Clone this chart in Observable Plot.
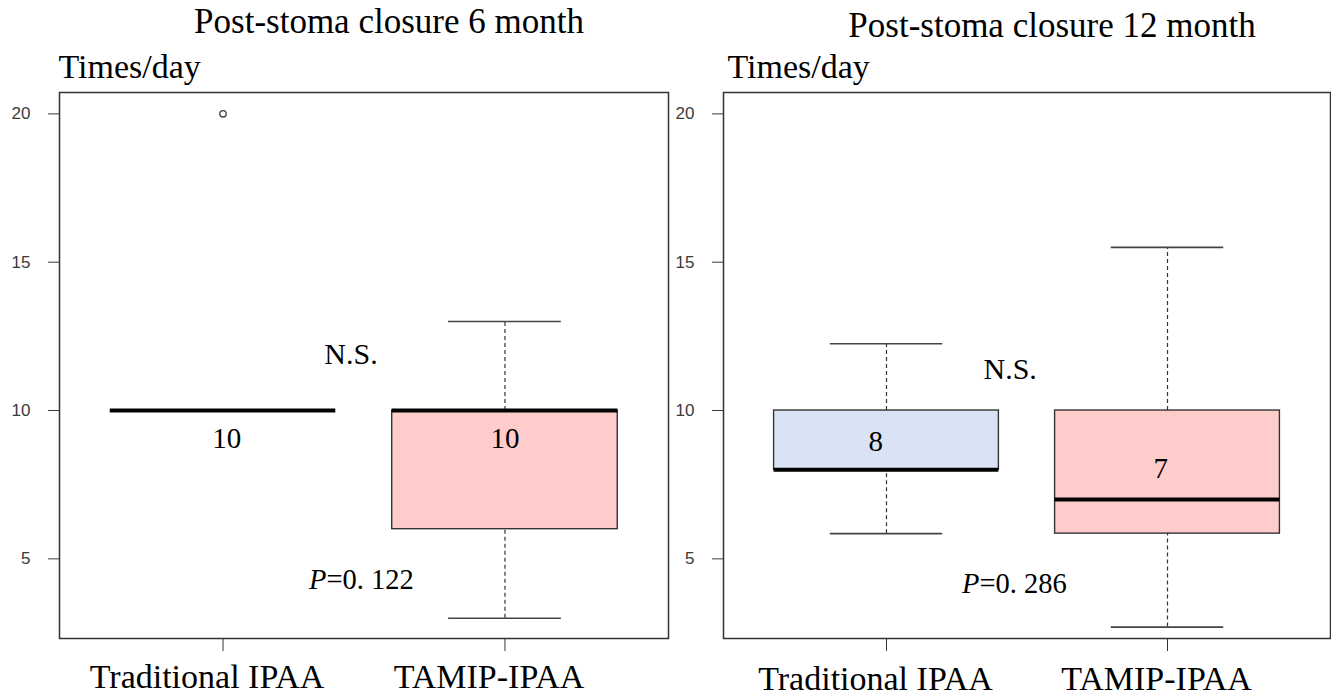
<!DOCTYPE html>
<html>
<head>
<meta charset="utf-8">
<script src="https://cdn.jsdelivr.net/npm/d3@7"></script>
<script src="https://cdn.jsdelivr.net/npm/@observablehq/plot@0.6"></script>
<style>
  html, body { margin: 0; padding: 0; background: #fff; overflow: hidden; }
  #chart { position: relative; width: 1331px; height: 697px; }
  #chart svg { position: absolute; left: 0; top: 0; }
</style>
</head>
<body>
<div id="chart"></div>
<script>
// ---------- data ----------
const groups = ["Traditional IPAA", "TAMIP-IPAA"];
const boxColors = ["#dae3f3", "#ffcccc"];
const yTicks = [5, 10, 15, 20];
const yLabel = "Times/day";
const nsLabel = "N.S.";

// Post-stoma closure 6 month
const title6 = "Post-stoma closure 6 month";
const lower6 = [10, 3];
const q1_6 = [10, 6];
const median6 = [10, 10];
const q3_6 = [10, 10];
const upper6 = [10, 13];
const outliers6 = [[20], []];
const medianLabels6 = ["10", "10"];
const pValue6 = "=0. 122";

// Post-stoma closure 12 month
const title12 = "Post-stoma closure 12 month";
const lower12 = [5.85, 2.7];
const q1_12 = [8, 5.85];
const median12 = [8, 7];
const q3_12 = [10, 10];
const upper12 = [12.25, 15.5];
const outliers12 = [[], []];
const medianLabels12 = ["8", "7"];
const pValue12 = "=0. 286";

// ---------- layout ----------
const serif = "'Liberation Serif','Times New Roman',Times,serif";
const sans = "'Liberation Sans',Arial,Helvetica,sans-serif";
const W = 1331, H = 697;

const panels = [
  {title: title6, lower: lower6, q1: q1_6, median: median6, q3: q3_6, upper: upper6,
   outliers: outliers6, medianLabels: medianLabels6, pValue: pValue6,
   layout: {left: 59, right: 668, titleDy: -60, yLabDx: -1, xLabDy: 49, xLabDx: -16,
            medLabX: [1.013, 2.0], medLabY: [9.06, 9.06], nsX: 1.454, nsY: 11.89, pX: 1.367, pY: 4.30}},
  {title: title12, lower: lower12, q1: q1_12, median: median12, q3: q3_12, upper: upper12,
   outliers: outliers12, medianLabels: medianLabels12, pValue: pValue12,
   layout: {left: 723, right: 1330, titleDy: -56, yLabDx: 4, xLabDy: 51, xLabDx: -11,
            medLabX: [0.962, 1.976], medLabY: [8.96, 8.03], nsX: 1.44, nsY: 11.40, pX: 1.331, pY: 4.15}}
];

function makePanel(p) {
  const L = p.layout;
  const rows = groups.map((g, i) => ({
    group: g, pos: i + 1,
    lower: p.lower[i], q1: p.q1[i], median: p.median[i], q3: p.q3[i], upper: p.upper[i],
    label: p.medianLabels[i], lx: L.medLabX[i], ly: L.medLabY[i]
  }));
  const outl = groups.flatMap((g, i) => p.outliers[i].map(v => ({group: g, pos: i + 1, value: v})));
  return Plot.plot({
    width: W, height: H,
    marginLeft: L.left, marginRight: W - L.right, marginTop: 92, marginBottom: 59,
    style: {background: "transparent", overflow: "visible", color: "#000"},
    x: {domain: [0.42, 2.58]},
    y: {domain: [2.315, 20.72]},
    color: {domain: groups, range: boxColors},
    marks: [
      Plot.axisY({ticks: yTicks, tickSize: 11, tickPadding: 18, fontSize: 17, fontFamily: sans,
                  label: null, color: "#3a3a3a"}),
      Plot.axisX({ticks: [1, 2], tickSize: 13, fill: "none", stroke: "#333", label: null}),
      // whiskers
      Plot.ruleX(rows, {x: "pos", y1: "q3", y2: "upper", stroke: "#333", strokeWidth: 1.2, strokeDasharray: "4,3"}),
      Plot.ruleX(rows, {x: "pos", y1: "lower", y2: "q1", stroke: "#333", strokeWidth: 1.2, strokeDasharray: "4,3"}),
      // staples
      Plot.ruleY(rows, {y: "upper", x1: d => d.pos - 0.2, x2: d => d.pos + 0.2, stroke: "#444", strokeWidth: 1.6}),
      Plot.ruleY(rows, {y: "lower", x1: d => d.pos - 0.2, x2: d => d.pos + 0.2, stroke: "#444", strokeWidth: 1.6}),
      // boxes
      Plot.rect(rows, {x1: d => d.pos - 0.4, x2: d => d.pos + 0.4, y1: "q1", y2: "q3",
                       fill: "group", stroke: "#333", strokeWidth: 1.4}),
      // medians
      Plot.ruleY(rows, {y: "median", x1: d => d.pos - 0.4, x2: d => d.pos + 0.4, stroke: "#000", strokeWidth: 4}),
      // outliers
      Plot.dot(outl, {x: "pos", y: "value", r: 3.2, stroke: "#444", fill: "none", strokeWidth: 1.4}),
      Plot.frame({stroke: "#333", strokeWidth: 1.5}),
      // category labels
      Plot.text(rows, {x: "pos", text: "group", frameAnchor: "bottom", lineAnchor: "bottom",
                       dy: L.xLabDy, dx: L.xLabDx, fontSize: 34, fontFamily: serif, fill: "#000"}),
      // median value labels
      Plot.text(rows, {x: "lx", y: "ly", text: "label", fontSize: 29, fontFamily: serif, fill: "#000"}),
      // N.S.
      Plot.text([nsLabel], {x: () => L.nsX, y: () => L.nsY, text: d => d, fontSize: 30, fontFamily: serif, fill: "#000"}),
      // P value
      Plot.text(["P"], {x: () => L.pX, y: () => L.pY, text: d => d, textAnchor: "end", fontStyle: "italic",
                        fontSize: 28.5, fontFamily: serif, fill: "#000"}),
      Plot.text([p.pValue], {x: () => L.pX, y: () => L.pY, text: d => d, textAnchor: "start",
                             fontSize: 28.5, fontFamily: serif, fill: "#000"}),
      // y label
      Plot.text([yLabel], {frameAnchor: "top-left", text: d => d, textAnchor: "start", lineAnchor: "bottom",
                           dy: -15, dx: L.yLabDx, fontSize: 34, fontFamily: serif, fill: "#000"}),
      // title
      Plot.text([p.title], {frameAnchor: "top", text: d => d, lineAnchor: "bottom",
                            dy: L.titleDy, dx: 25, fontSize: 35, fontFamily: serif, fill: "#000"})
    ]
  });
}

const chart = document.getElementById("chart");
panels.forEach(p => chart.appendChild(makePanel(p)));
</script>
</body>
</html>
